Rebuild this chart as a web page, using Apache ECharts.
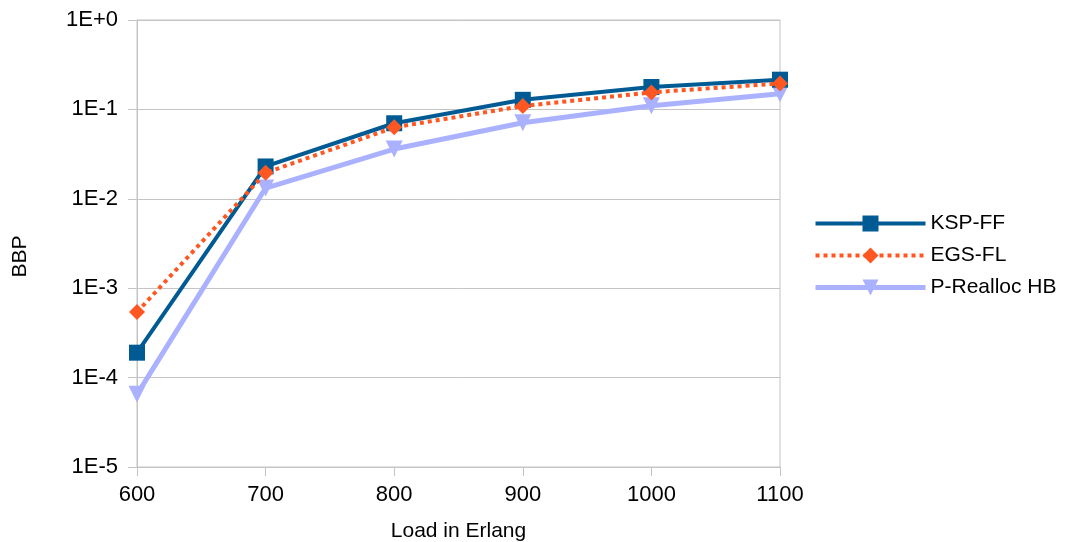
<!DOCTYPE html>
<html>
<head>
<meta charset="utf-8">
<script src="https://cdn.jsdelivr.net/npm/echarts@6/dist/echarts.min.js"></script>
<style>
  html, body { margin: 0; padding: 0; background: #fff; }
  #chart { width: 1073px; height: 542px; }
</style>
</head>
<body>
<div id="chart"></div>
<script>
  // values
  var loads = ['600', '700', '800', '900', '1000', '1100'];
  var kspFF = [1.9e-4, 0.023, 0.07, 0.128, 0.178, 0.215];
  var egsFL = [5.4e-4, 0.0195, 0.063, 0.109, 0.155, 0.195];
  var pRealloc = [6.5e-5, 0.0132, 0.036, 0.071, 0.11, 0.15];

  var chart = echarts.init(document.getElementById('chart'));
  var font = 'Liberation Sans, Arial, sans-serif';

  chart.setOption({
    animation: false,
    textStyle: { fontFamily: font, color: '#000' },
    grid: {
      left: 137, right: 293, top: 20, bottom: 75,
      outerBoundsMode: 'none',
      show: true, borderColor: '#c4c4c4', borderWidth: 1
    },
    legend: {
      orient: 'vertical',
      left: 808, top: 208,
      itemWidth: 110, itemHeight: 20, itemGap: 11,
      textStyle: { fontSize: 21, color: '#000', fontFamily: font },
      data: [
        { name: 'KSP-FF', lineStyle: { width: 4 } },
        { name: 'EGS-FL', lineStyle: { width: 4 } },
        { name: 'P-Realloc HB', lineStyle: { width: 5 } }
      ]
    },
    xAxis: {
      type: 'category',
      boundaryGap: false,
      data: loads,
      name: 'Load in Erlang',
      nameLocation: 'middle',
      nameGap: 54,
      nameTextStyle: { fontSize: 21, color: '#000' },
      axisLine: { lineStyle: { color: '#c4c4c4' } },
      axisTick: { show: true, length: 9, lineStyle: { color: '#c4c4c4' } },
      axisLabel: { fontSize: 22, color: '#000', margin: 17 },
      splitLine: { show: false }
    },
    yAxis: {
      type: 'log',
      logBase: 10,
      min: 1e-5,
      max: 1,
      name: 'BBP',
      nameLocation: 'middle',
      nameGap: 106,
      nameTextStyle: { fontSize: 21, color: '#000', padding: [0, 26, 0, 0] },
      axisLine: { show: true, lineStyle: { color: '#c4c4c4' } },
      axisTick: { show: true, length: 9, lineStyle: { color: '#c4c4c4' } },
      axisLabel: {
        fontSize: 22, color: '#000', margin: 19,
        formatter: function (v) {
          var e = Math.round(Math.log10(v));
          return '1E' + (e >= 0 ? '+' : '') + e;
        }
      },
      splitLine: { show: true, lineStyle: { color: '#c4c4c4' } },
      minorTick: { show: false }
    },
    series: [
      {
        name: 'KSP-FF',
        type: 'line',
        data: kspFF,
        symbol: 'rect',
        symbolSize: 16,
        z: 3,
        lineStyle: { color: '#005b94', width: 4 },
        itemStyle: { color: '#005b94' }
      },
      {
        name: 'EGS-FL',
        type: 'line',
        data: egsFL,
        symbol: 'diamond',
        symbolSize: 16,
        z: 4,
        lineStyle: { color: '#ff5722', width: 4, type: [4, 4] },
        itemStyle: { color: '#ff5722' }
      },
      {
        name: 'P-Realloc HB',
        type: 'line',
        data: pRealloc,
        symbol: 'triangle',
        symbolRotate: 180,
        symbolSize: 17,
        z: 2,
        lineStyle: { color: '#aab2ff', width: 5 },
        itemStyle: { color: '#aab2ff' }
      }
    ]
  });
</script>
</body>
</html>
